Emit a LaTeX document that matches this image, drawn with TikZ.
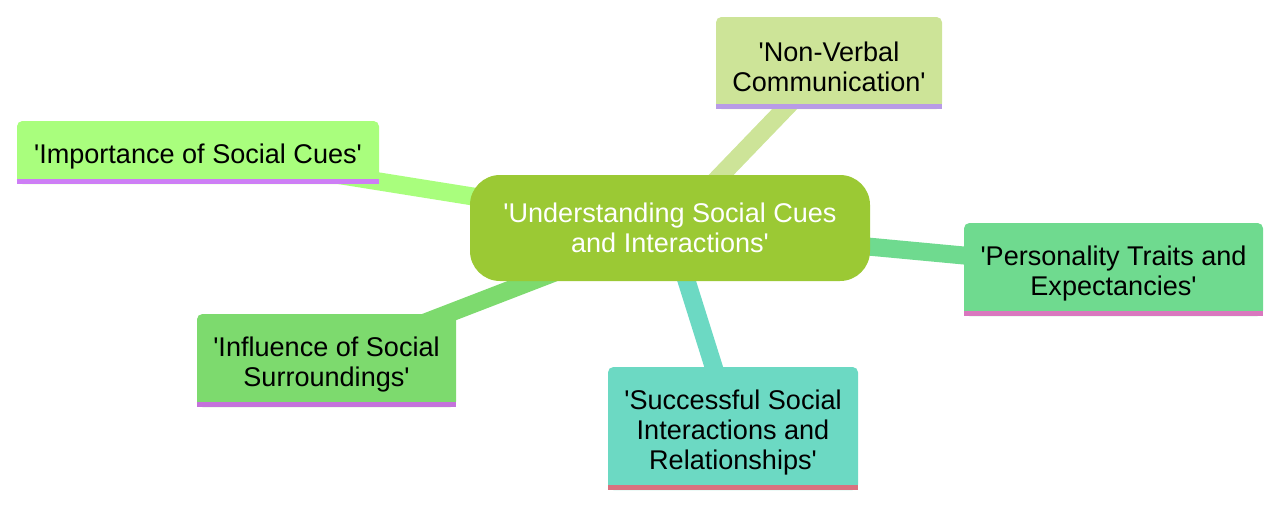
\documentclass[tikz,border=0pt]{standalone}
\usepackage{fontspec}
\setmainfont{Liberation Sans}[Ligatures=TeXOff]
\definecolor{rootgreen}{HTML}{9BC934}
\definecolor{nvfill}{HTML}{CDE498}
\definecolor{impfill}{HTML}{A9FE7D}
\definecolor{persfill}{HTML}{6FDA8F}
\definecolor{inflfill}{HTML}{7DDA6E}
\definecolor{succfill}{HTML}{6CD9C3}
\definecolor{nvbar}{HTML}{B89BE6}
\definecolor{impbar}{HTML}{CD7EF5}
\definecolor{persbar}{HTML}{D977BE}
\definecolor{inflbar}{HTML}{C472DB}
\definecolor{succbar}{HTML}{D9717F}
\usetikzlibrary{backgrounds}
\newcommand{\topstrut}{\rule{0pt}{21pt}}

\begin{document}
\begin{tikzpicture}[
  x=0.75pt, y=-0.75pt,
  font=\fontsize{20.3}{22.5}\selectfont,
  rootbox/.style={rectangle, fill=rootgreen, rounded corners=22.5pt,
                  minimum width=300pt, minimum height=79.5pt,
                  align=center, text=white, inner sep=0pt},
  leaf/.style={rectangle, rounded corners=4pt, align=center,
               inner sep=0pt, text=black},
  edge/.style={line width=13.5pt}
]
  \useasboundingbox (0,0) rectangle (1280,504);

  \node[rootbox] (root) at (670,228)
    {'Understanding Social Cues\\and Interactions'};

  \node[leaf, fill=nvfill, minimum width=169.5pt, minimum height=69pt]
    (nonverbal) at (829,63) {\topstrut'Non-Verbal\\Communication'};
  \node[leaf, fill=impfill, minimum width=271.5pt, minimum height=47.25pt]
    (importance) at (198,152.5) {\topstrut'Importance of Social Cues'};
  \node[leaf, fill=persfill, minimum width=224.25pt, minimum height=69.75pt]
    (personality) at (1113.5,269.5)
    {\topstrut'Personality Traits and\\Expectancies'};
  \node[leaf, fill=inflfill, minimum width=194.25pt, minimum height=69.75pt]
    (influence) at (326.5,360.5)
    {\topstrut'Influence of Social\\Surroundings'};
  \node[leaf, fill=succfill, minimum width=187.5pt, minimum height=92.25pt]
    (successful) at (733,428.5)
    {\topstrut'Successful Social\\Interactions and\\Relationships'};

  % coloured strip under each leaf
  \foreach \n/\c in {nonverbal/nvbar, importance/impbar,
                     personality/persbar, influence/inflbar,
                     successful/succbar}
    \fill[\c] (\n.south west) rectangle ([yshift=3.75pt]\n.south east);

  \begin{scope}[on background layer]
    \draw[edge, nvfill] (root.center) -- (nonverbal.center);
    \draw[edge, impfill] (root.center) -- (importance.center);
    \draw[edge, persfill] (root.center) -- (personality.center);
    \draw[edge, inflfill] (root.center) -- (influence.center);
    \draw[edge, succfill] (root.center) -- (successful.center);
  \end{scope}
\end{tikzpicture}
\end{document}
